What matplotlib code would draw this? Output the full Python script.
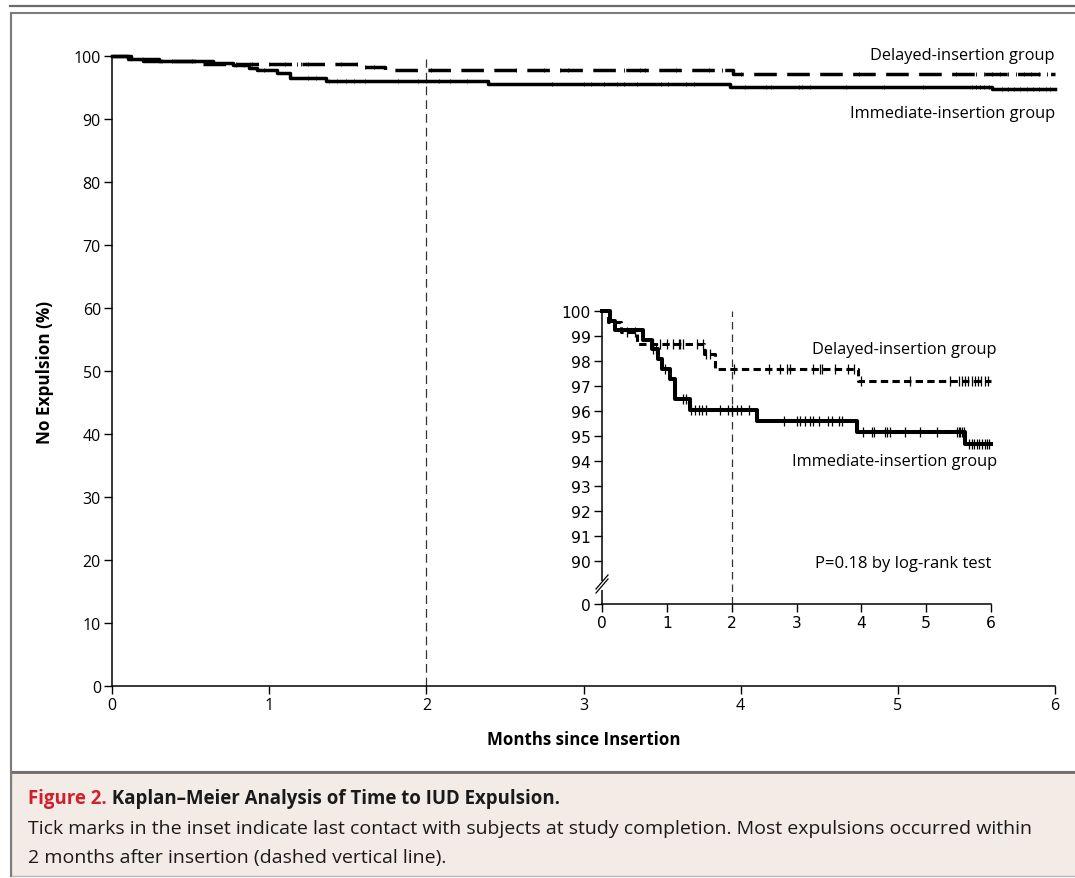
import numpy as np
import matplotlib
matplotlib.use("Agg")
import matplotlib.pyplot as plt
from matplotlib.patches import Rectangle
from matplotlib.lines import Line2D

# ---------------- data ----------------
imm_times = [0, 0.12, 0.20, 0.64, 0.77, 0.87, 0.92, 1.05, 1.13, 1.36, 2.39, 3.93, 5.60, 6.0]
imm_surv = [100, 99.6, 99.25, 98.85, 98.5, 98.1, 97.7, 97.3, 96.5, 96.05, 95.6, 95.15, 94.7, 94.7]
del_times = [0, 0.10, 0.30, 0.54, 1.58, 1.74, 3.95, 6.0]
del_surv = [100, 99.55, 99.15, 98.7, 98.3, 97.7, 97.2, 97.2]

imm_censor = [0.79, 0.84, 0.97, 1.25, 1.30, 1.38, 1.43, 1.49, 1.54, 1.61, 1.82, 1.95,
              2.00, 2.08, 2.15, 2.26, 2.80, 3.00, 3.05, 3.13, 3.21, 3.26, 3.34, 3.49,
              3.54, 3.65, 3.70, 4.03, 4.16, 4.19, 4.37, 4.39, 4.44, 4.67, 4.91, 5.16,
              5.47, 5.50, 5.52, 5.55, 5.58, 5.66, 5.70, 5.74, 5.78, 5.82, 5.86, 5.90,
              5.94, 5.97]
del_censor = [0.38, 0.51, 0.79, 0.89, 1.00, 1.10, 1.18, 1.20, 1.25, 1.46, 1.56, 1.61,
              1.67, 2.03, 2.57, 2.75, 2.85, 2.90, 3.26, 3.36, 3.39, 3.59, 3.80, 3.88,
              4.00, 4.75, 5.37, 5.50, 5.55, 5.60, 5.65, 5.70, 5.75, 5.80, 5.85, 5.90,
              5.95]

main_yticks = [0, 10, 20, 30, 40, 50, 60, 70, 80, 90, 100]
xticks = [0, 1, 2, 3, 4, 5, 6]
inset_yticks = [90, 91, 92, 93, 94, 95, 96, 97, 98, 99, 100]
inset_zero_label = "0"

label_delayed = "Delayed-insertion group"
label_immediate = "Immediate-insertion group"
p_text = "P=0.18 by log-rank test"
xlabel = "Months since Insertion"
ylabel = "No Expulsion (%)"
cap_title_red = "Figure 2."
cap_title = "Kaplan\u2013Meier Analysis of Time to IUD Expulsion."
cap_line1 = ("Tick marks in the inset indicate last contact with subjects at study completion. "
             "Most expulsions occurred within")
cap_line2 = "2 months after insertion (dashed vertical line)."


def censor_y(times, surv, ct):
    idx = np.searchsorted(np.asarray(times), np.asarray(ct), side="right") - 1
    return np.asarray(surv)[idx]


# ---------------- figure ----------------
W, H = 1075, 879
fig = plt.figure(figsize=(W / 100, H / 100), dpi=100)
fig.patch.set_facecolor("white")

TXT = ["Open Sans", "DejaVu Sans"]
WIDE = ["DejaVu Sans"]
NARROW = ["Liberation Sans Narrow", "Open Sans", "DejaVu Sans"]


def fx(px):
    return px / W


def fy(py):
    return 1 - py / H


# frames
fig.add_artist(Line2D([fx(10), fx(1075)], [fy(6.5), fy(6.5)], transform=fig.transFigure,
                      color="#6a6a6a", lw=1.6, zorder=-2))
fig.add_artist(Rectangle((fx(11), fy(773)), fx(1080) - fx(11), fy(14) - fy(773),
                         transform=fig.transFigure, facecolor="white", edgecolor="#7c7c7c",
                         lw=1.5, zorder=-3))
fig.add_artist(Rectangle((fx(11), fy(877)), fx(1080) - fx(11), fy(773) - fy(877),
                         transform=fig.transFigure, facecolor="#f2ebe6", edgecolor="#b8b8b8",
                         lw=1.0, zorder=-2))
fig.add_artist(Line2D([fx(11), fx(1075)], [fy(773), fy(773)], transform=fig.transFigure,
                      color="#6e6e6e", lw=2.0, zorder=-1))
fig.add_artist(Line2D([fx(11), fx(11)], [fy(877), fy(14)], transform=fig.transFigure,
                      color="#7c7c7c", lw=1.5, zorder=-1))

# ---------------- main axes ----------------
ax = fig.add_axes([fx(112), fy(687), fx(1055) - fx(112), fy(57) - fy(687)])
ax.set_facecolor("none")
ax.set_xlim(0, 6)
ax.set_ylim(0, 100)
for s in ["top", "right"]:
    ax.spines[s].set_visible(False)
for s in ["left", "bottom"]:
    ax.spines[s].set_linewidth(1.1)
ax.set_xticks(xticks)
ax.set_yticks(main_yticks)
ax.set_xticklabels([str(v) for v in xticks])
ax.set_yticklabels([str(v) for v in main_yticks])
ax.tick_params(direction="out", length=6, width=1.0, labelsize=11.5, pad=2)
for lab in ax.get_xticklabels() + ax.get_yticklabels():
    lab.set_family(NARROW)

ax.plot([2, 2], [0, 99.5], color="#333333", lw=0.9, dashes=(7, 4), zorder=1)
ax.step(imm_times, imm_surv, where="post", color="black", lw=2.5, clip_on=False, zorder=3)
ax.step(del_times, del_surv, where="post", color="black", lw=2.5, dashes=(6.5, 3),
        clip_on=False, zorder=3)
ax.plot(imm_censor, censor_y(imm_times, imm_surv, imm_censor), ls="none", marker="|",
        ms=3, mew=0.6, color="black", clip_on=False, zorder=4)
ax.plot(del_censor, censor_y(del_times, del_surv, del_censor), ls="none", marker="|",
        ms=3, mew=0.6, color="black", clip_on=False, zorder=4)

ax.text(6, 100.2, label_delayed, ha="right", va="center", fontsize=11.8, family=TXT)
ax.text(6, 90.95, label_immediate, ha="right", va="center", fontsize=11.8, family=TXT)

fig.text(fx(584), fy(740), xlabel, ha="center", va="center", fontsize=12.2,
         fontweight="bold", family=TXT)
fig.text(fx(45), fy(372), ylabel, ha="center", va="center", rotation=90, fontsize=12.3,
         fontweight="bold", family=TXT)

# ---------------- inset axes ----------------
y_zero_pos = 88.28
ins = fig.add_axes([fx(602), fy(605), fx(991) - fx(602), fy(312) - fy(605)])
ins.set_facecolor("none")
ins.set_xlim(0, 6)
ins.set_ylim(y_zero_pos, 100)
for s in ["top", "right"]:
    ins.spines[s].set_visible(False)
for s in ["left", "bottom"]:
    ins.spines[s].set_linewidth(1.1)
ins.set_xticks(xticks)
ins.set_xticklabels([str(v) for v in xticks])
ins.set_yticks([y_zero_pos] + inset_yticks)
ins.set_yticklabels([inset_zero_label] + [str(v) for v in inset_yticks])
ins.tick_params(direction="out", length=6, width=1.0, labelsize=11.2, pad=2)
for lab in ins.get_xticklabels() + ins.get_yticklabels():
    lab.set_family(WIDE)

ins.plot([2, 2], [y_zero_pos, 100], color="#333333", lw=0.9, dashes=(6, 4), zorder=1)
ins.step(imm_times, imm_surv, where="post", color="black", lw=2.9, clip_on=False, zorder=3)
ins.step(del_times, del_surv, where="post", color="black", lw=2.2, dashes=(2.4, 1.4),
         clip_on=False, zorder=3)
ins.plot(imm_censor, censor_y(imm_times, imm_surv, imm_censor), ls="none", marker="|",
         ms=7, mew=0.9, color="black", clip_on=False, zorder=4)
ins.plot(del_censor, censor_y(del_times, del_surv, del_censor), ls="none", marker="|",
         ms=7, mew=0.9, color="black", clip_on=False, zorder=4)

ins.text(6.09, 98.48, label_delayed, ha="right", va="center", fontsize=11.8, family=TXT)
ins.text(6.09, 94.0, label_immediate, ha="right", va="center", fontsize=11.8, family=TXT)
ins.text(6.0, 89.92, p_text, ha="right", va="center", fontsize=12, family=TXT)

# axis break marks
iw = 991 - 602
ih = 605 - 312


def ifrac_y(py):
    return (605 - py) / ih


ins.add_artist(Rectangle((-3 / iw, ifrac_y(591)), 6 / iw, (591 - 582) / ih,
                         transform=ins.transAxes, facecolor="white", edgecolor="none",
                         clip_on=False, zorder=5))
for dy in (0, -4):
    ins.add_artist(Line2D([-6 / iw, 6 / iw], [ifrac_y(594 + dy), ifrac_y(580 + dy)],
                          transform=ins.transAxes, color="black", lw=0.9,
                          clip_on=False, zorder=6))

# ---------------- caption ----------------
t1 = fig.text(fx(28), fy(799), cap_title_red, ha="left", va="center", fontsize=13.4,
              fontweight="bold", color="#d0202e", family=TXT)
ax.annotate(" " + cap_title, xy=(1, 0), xycoords=t1, ha="left", va="bottom",
            fontsize=13.4, fontweight="bold", color="#1a1a1a", family=TXT,
            annotation_clip=False)
fig.text(fx(28), fy(829), cap_line1, ha="left", va="center", fontsize=14.0,
         color="#1a1a1a", family=TXT)
fig.text(fx(28), fy(858), cap_line2, ha="left", va="center", fontsize=14.0,
         color="#1a1a1a", family=TXT)

fig.savefig("out.png", dpi=100)
